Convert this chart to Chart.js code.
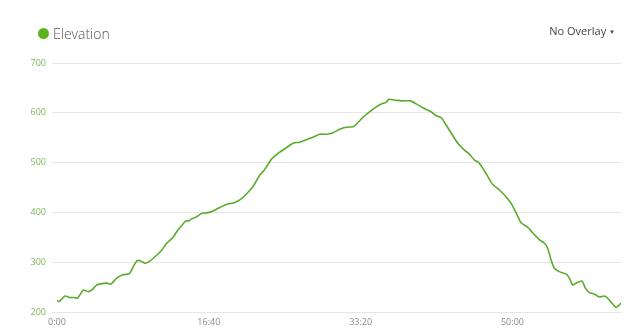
<!DOCTYPE html>
<html>
<head>
<meta charset="utf-8">
<title>Elevation</title>
<style>
  body {
    margin: 0;
    background: #fff;
    font-family: "Open Sans", Arial, sans-serif;
  }
  .wrap {
    position: relative;
    width: 640px;
    height: 334px;
  }
  .legend {
    position: absolute;
    left: 38px;
    top: 24px;
    font-size: 14px;
    font-weight: 300;
    color: #555;
    display: flex;
    align-items: center;
  }
  .legend .dot {
    width: 11px;
    height: 11px;
    border-radius: 50%;
    background: #5cb31d;
    margin-right: 4px;
  }
  .overlay {
    position: absolute;
    right: 25px;
    top: 23px;
    font-size: 11px;
    color: #444;
  }
  .overlay span {
    font-size: 6px;
    vertical-align: 1px;
  }
  canvas {
    position: absolute;
    left: 0;
    top: 0;
  }
</style>
</head>
<body>
<div class="wrap">
  <canvas id="elevChart" width="640" height="334"></canvas>
  <div class="legend"><div class="dot"></div>Elevation</div>
  <div class="overlay">No Overlay <span>&#9660;</span></div>
</div>

<script src="https://cdn.jsdelivr.net/npm/chart.js"></script>
<script>
// tempo em segundos
const seconds = [0, 15, 53, 86, 107, 136, 173, 206, 228, 261, 294, 327, 355, 393, 432, 469, 480, 502, 528, 546,
  579, 601, 645, 689, 722, 765, 788, 820, 849, 870, 886, 919, 952, 985, 1028, 1072, 1116, 1171, 1204, 1248,
  1291, 1336, 1368, 1413, 1467, 1511, 1555, 1599, 1643, 1686, 1730, 1774, 1818, 1862, 1906, 1949, 1972, 2015,
  2059, 2103, 2147, 2169, 2184, 2235, 2278, 2327, 2366, 2410, 2465, 2498, 2531, 2564, 2597, 2640, 2684, 2717,
  2750, 2778, 2804, 2838, 2870, 2914, 2959, 2991, 3024, 3057, 3101, 3145, 3178, 3211, 3232, 3255, 3276, 3309,
  3353, 3375, 3397, 3419, 3459, 3480, 3507, 3539, 3572, 3605, 3627, 3649, 3682, 3704, 3715];
// elevação (m)
const elevation = [223, 221, 232, 229, 229, 228, 244, 241, 244, 254, 257, 258, 256, 268, 275, 276, 278, 291, 303, 303,
  298, 300, 311, 324, 338, 350, 361, 373, 383, 383, 387, 391, 398, 399, 403, 410, 416, 420, 425, 437,
  452, 475, 486, 507, 521, 530, 539, 541, 546, 551, 557, 557, 560, 567, 571, 572, 577, 591,
  602, 612, 619, 621, 627, 625, 624, 624, 618, 610, 602, 594, 590, 575, 559, 539, 525, 517,
  505, 500, 489, 472, 456, 445, 431, 418, 399, 379, 370, 355, 345, 338, 328, 304, 288, 281,
  276, 268, 254, 258, 262, 248, 239, 236, 230, 232, 228, 220, 209, 214, 218];
const xTicks = [0, 1000, 2000, 3000];
const yTicks = [200, 300, 400, 500, 600, 700];

function fmtTime(s) {
  const m = Math.floor(s / 60);
  const r = s % 60;
  return m + ':' + (r < 10 ? '0' : '') + r;
}

const points = seconds.map((t, i) => ({ x: t, y: elevation[i] }));

new Chart(document.getElementById('elevChart'), {
  type: 'line',
  data: {
    datasets: [{
      label: 'Elevation',
      data: points,
      borderColor: '#5aab2c',
      borderWidth: 1.6,
      pointRadius: 0,
      tension: 0.2,
      fill: false
    }]
  },
  options: {
    responsive: false,
    animation: false,
    layout: { padding: { left: 0, top: 63, right: 19, bottom: 0 } },
    plugins: {
      legend: { display: false },
      tooltip: { enabled: false }
    },
    scales: {
      x: {
        type: 'linear',
        min: -33,
        max: 3715,
        afterBuildTicks: (scale) => { scale.ticks = xTicks.map(v => ({ value: v })); },
        afterFit: (scale) => { scale.height = 22; },
        grid: { display: false, drawTicks: false },
        border: { display: false },
        ticks: {
          padding: 5,
          color: '#8a8a8a',
          font: { family: 'Open Sans', size: 9 },
          maxRotation: 0,
          callback: (v) => fmtTime(v)
        }
      },
      y: {
        min: 200,
        max: 700,
        afterBuildTicks: (scale) => { scale.ticks = yTicks.map(v => ({ value: v })); },
        afterFit: (scale) => { scale.width = 52; },
        grid: { color: '#e6e6e6', lineWidth: 1, drawTicks: false },
        border: { display: false },
        ticks: {
          padding: 6,
          color: '#7cb955',
          font: { family: 'Open Sans', size: 9 }
        }
      }
    }
  }
});
</script>
</body>
</html>
